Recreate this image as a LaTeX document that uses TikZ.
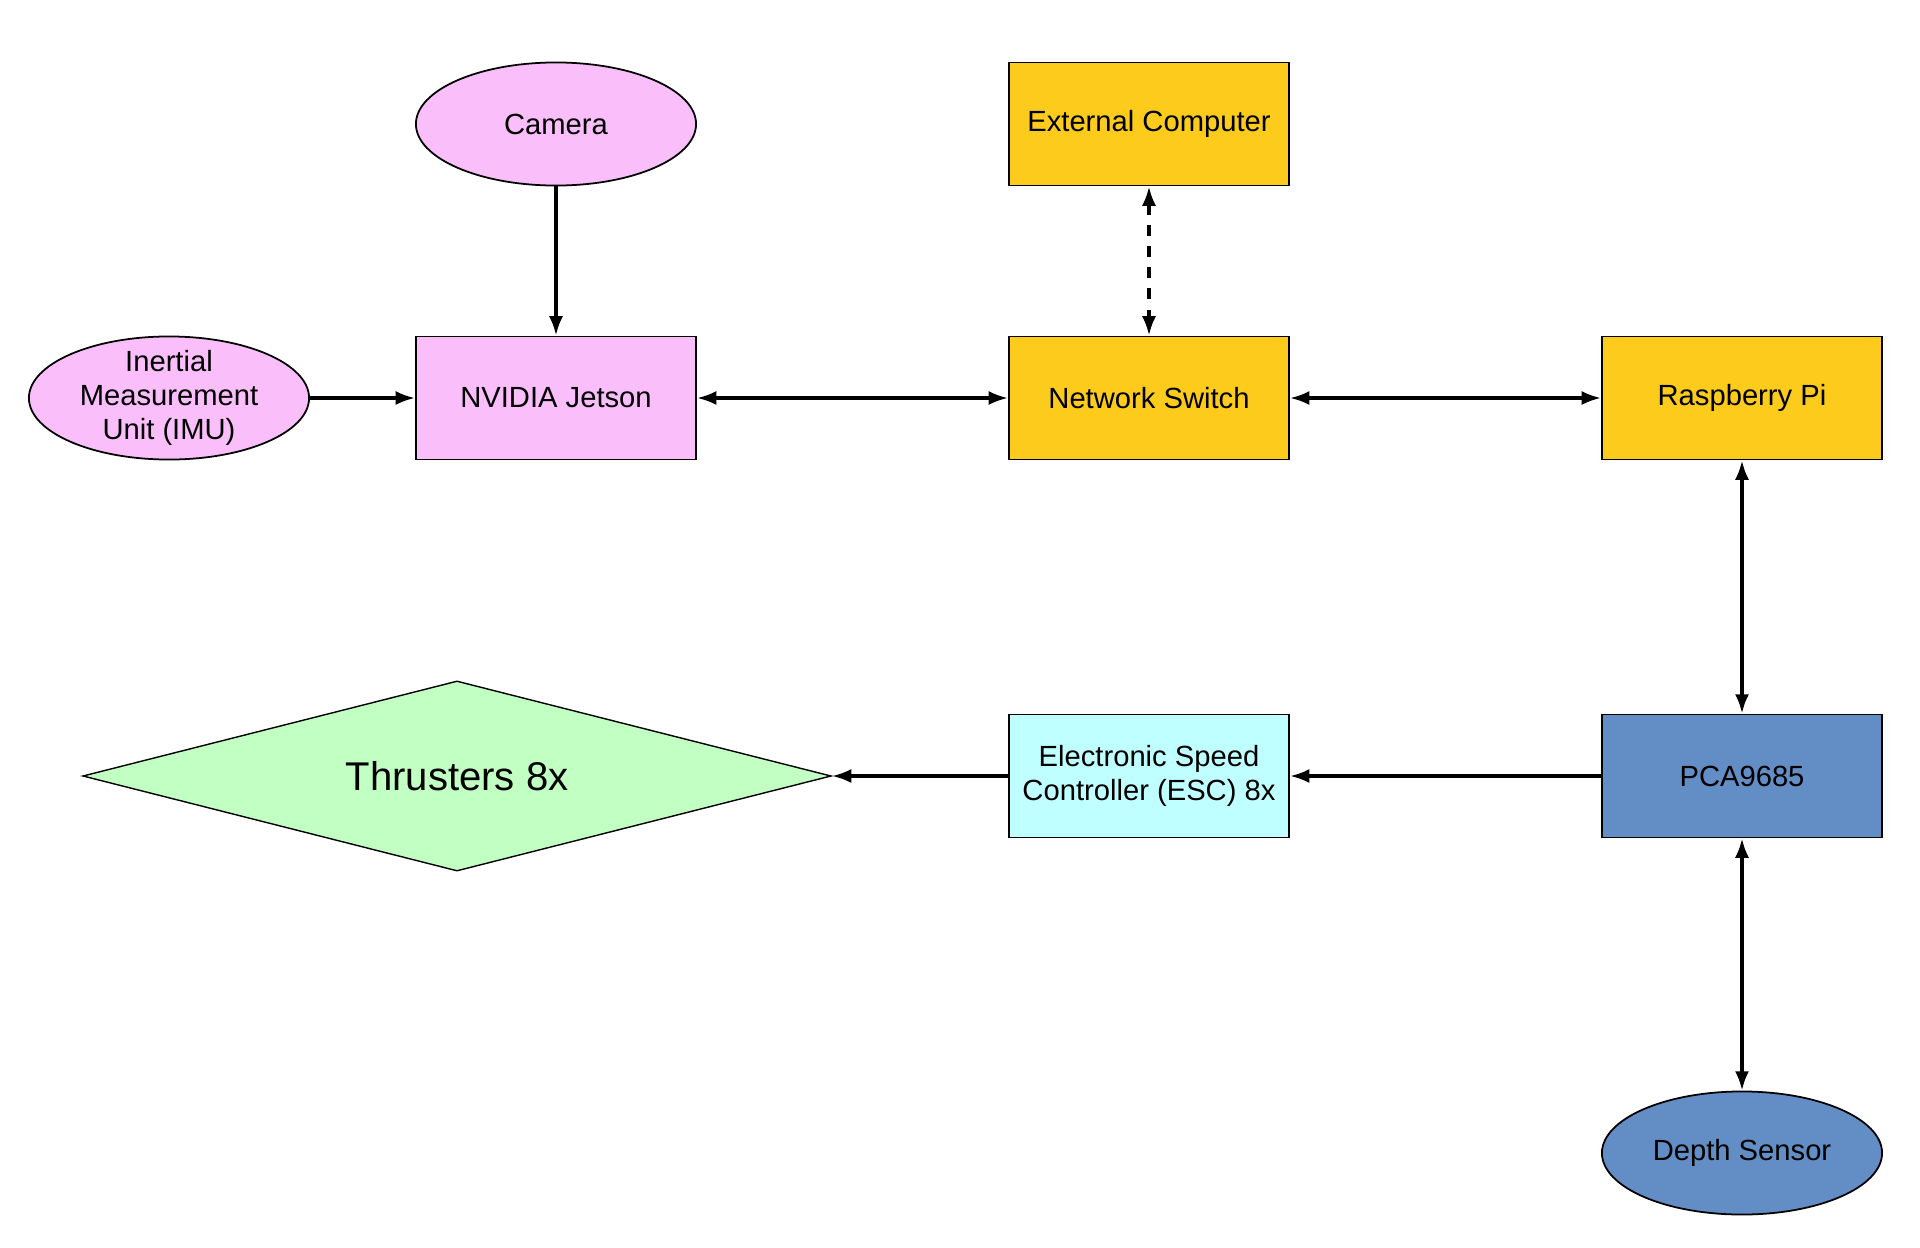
\documentclass[tikz,border=0pt]{standalone}
\usepackage{fontspec}
\setmainfont{Liberation Sans}
\usepackage{xcolor}
\usetikzlibrary{shapes.geometric,arrows.meta}

\definecolor{camPink}{RGB}{250,190,250}
\definecolor{netGold}{RGB}{252,203,28}
\definecolor{pwmBlue}{RGB}{99,141,197}
\definecolor{escCyan}{RGB}{192,255,255}
\definecolor{thrGreen}{RGB}{194,255,194}

\tikzset{
  box/.style={draw, line width=0.5pt, minimum width=2.8cm, minimum height=1.23cm, inner sep=0pt, align=center, font=\fontsize{8.3}{9.6}\selectfont},
  sensor/.style={box, ellipse, inner sep=-6pt},
  link/.style={line width=0.95pt, -{Latex[length=5.5pt,width=4pt]}},
  duplex/.style={line width=0.95pt, {Latex[length=5.5pt,width=4pt]}-{Latex[length=5.5pt,width=4pt]}}
}

\begin{document}
\begin{tikzpicture}[x=0.01cm,y=-0.01cm]
\useasboundingbox (0,0) rectangle (1920,1248);

% sensors and computers
\node[sensor, fill=camPink] (camera) at (556,124) {Camera};
\node[box, fill=netGold] (extpc) at (1149,124) {External Computer};
\node[sensor, fill=camPink] (imu) at (169,398) {Inertial\\Measurement\\Unit (IMU)};
\node[box, fill=camPink] (jetson) at (556,398) {NVIDIA Jetson};
\node[box, fill=netGold] (switch) at (1149,398) {Network Switch};
\node[box, fill=netGold] (rpi) at (1742,398) {Raspberry Pi};

% drive chain
\node[draw, diamond, line width=0.4pt, fill=thrGreen, aspect=3.9, minimum width=7.48cm, minimum height=1.9cm, inner sep=0pt,
  font=\fontsize{11.4}{13}\selectfont] (thrust) at (457,776) {Thrusters 8x};
\node[box, fill=escCyan] (esc) at (1149,776) {Electronic Speed\\Controller (ESC) 8x};
\node[box, fill=pwmBlue] (pca) at (1742,776) {PCA9685};
\node[sensor, fill=pwmBlue] (depth) at (1742,1153) {Depth Sensor};

% connections
\draw[link] (camera) -- (jetson);
\draw[link] (imu) -- (jetson);
\draw[duplex] (jetson) -- (switch);
\draw[duplex, dashed] (extpc) -- (switch);
\draw[duplex] (switch) -- (rpi);
\draw[duplex] (rpi) -- (pca);
\draw[link] (pca) -- (esc);
\draw[link] (esc) -- (thrust.east);
\draw[duplex] (pca) -- (depth);
\end{tikzpicture}
\end{document}
